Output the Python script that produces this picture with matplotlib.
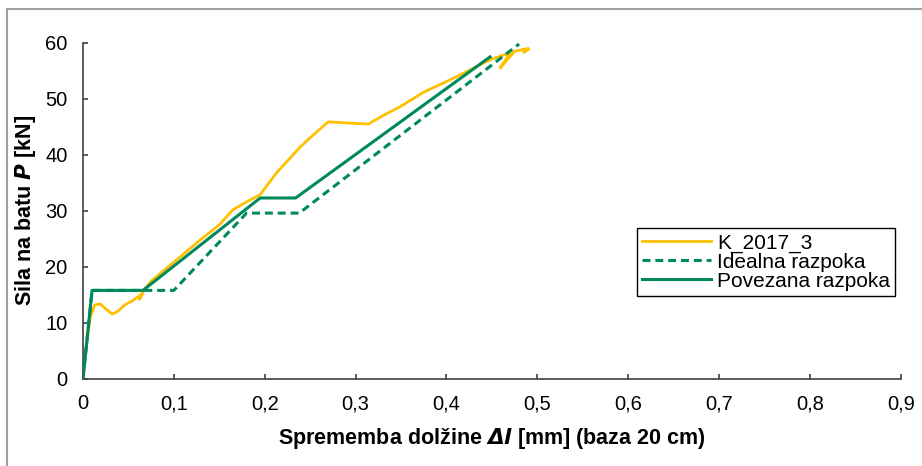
import matplotlib.pyplot as plt
from matplotlib.lines import Line2D

plt.rcParams['font.family'] = ['Liberation Sans', 'DejaVu Sans']

# K_2017_3 measured curve
k_x = [0, 0.003, 0.008, 0.013, 0.019, 0.025, 0.032, 0.038, 0.046, 0.055, 0.065,
       0.062, 0.068, 0.074, 0.09, 0.11, 0.129, 0.15, 0.165, 0.18, 0.195, 0.213,
       0.239, 0.255, 0.27, 0.29, 0.314, 0.33, 0.349, 0.375, 0.404, 0.43, 0.448,
       0.47, 0.459, 0.475, 0.49, 0.485, 0.49]
k_y = [0, 5, 11, 13.2, 13.4, 12.5, 11.6, 12.0, 13.2, 14.0, 15.2,
       14.2, 16.0, 17.3, 19.5, 22.2, 24.8, 27.5, 30.2, 31.6, 32.9, 36.8,
       41.4, 43.8, 45.9, 45.7, 45.5, 47.0, 48.6, 51.2, 53.4, 55.5, 57.0,
       58.2, 55.5, 58.5, 59.0, 58.3, 58.8]

# Idealna razpoka
id_x = [0, 0.01, 0.1, 0.18, 0.238, 0.48]
id_y = [0, 15.8, 15.8, 29.6, 29.6, 59.8]

# Povezana razpoka
pv_x = [0, 0.01, 0.066, 0.195, 0.234, 0.448]
pv_y = [0, 15.8, 15.8, 32.3, 32.3, 57.5]

xticks = [0, 0.1, 0.2, 0.3, 0.4, 0.5, 0.6, 0.7, 0.8, 0.9]
yticks = [0, 10, 20, 30, 40, 50, 60]

yellow = '#ffc000'
green = '#00895a'

fig = plt.figure(figsize=(9.22, 4.66), dpi=100)
ax = fig.add_axes([0.090, 0.187, 0.887, 0.721])

ax.plot(k_x, k_y, color=yellow, lw=2.0, label='K_2017_3', zorder=2)
ax.plot(id_x, id_y, color=green, lw=2.2, dashes=(2.6, 1.6), label='Idealna razpoka', zorder=3)
ax.plot(pv_x, pv_y, color=green, lw=2.2, label='Povezana razpoka', zorder=3)

ax.set_xlim(0, 0.9)
ax.set_ylim(0, 60)
ax.set_xticks(xticks)
ax.set_xticklabels([('%.1f' % t).replace('.', ',') if t else '0' for t in xticks])
ax.set_yticks(yticks)
ax.tick_params(direction='in', length=3.5, width=1.2, color='#404040', labelsize=14.5)
ax.tick_params(axis='x', pad=11)
ax.tick_params(axis='y', pad=11)
for s in ['top', 'right']:
    ax.spines[s].set_visible(False)
for s in ['left', 'bottom']:
    ax.spines[s].set_color('#404040')
    ax.spines[s].set_linewidth(1.2)

ax.set_xlabel(r'Sprememba dolžine $\mathbfit{\Delta l}$ [mm] (baza 20 cm)', fontsize=15.5, fontweight='bold', labelpad=9)
ax.set_ylabel(r'Sila na batu $\mathbfit{P}$ [kN]', fontsize=15.5, fontweight='bold', labelpad=5)

leg = ax.legend(loc='lower left', bbox_to_anchor=(0.677, 0.247), fontsize=15,
                frameon=True, fancybox=False, edgecolor='black', framealpha=1,
                handlelength=3.3, handletextpad=0.3, labelspacing=0.0, borderpad=0.25,
                borderaxespad=0)
leg.get_frame().set_linewidth(1.0)

# outer chart border
fig.add_artist(Line2D([7 / 922, 7 / 922], [0, 1 - 9 / 466], color='#a0a0a0', lw=1.5))
fig.add_artist(Line2D([7 / 922, 1], [1 - 9 / 466, 1 - 9 / 466], color='#a0a0a0', lw=1.5))

fig.savefig('out.png', dpi=100)
